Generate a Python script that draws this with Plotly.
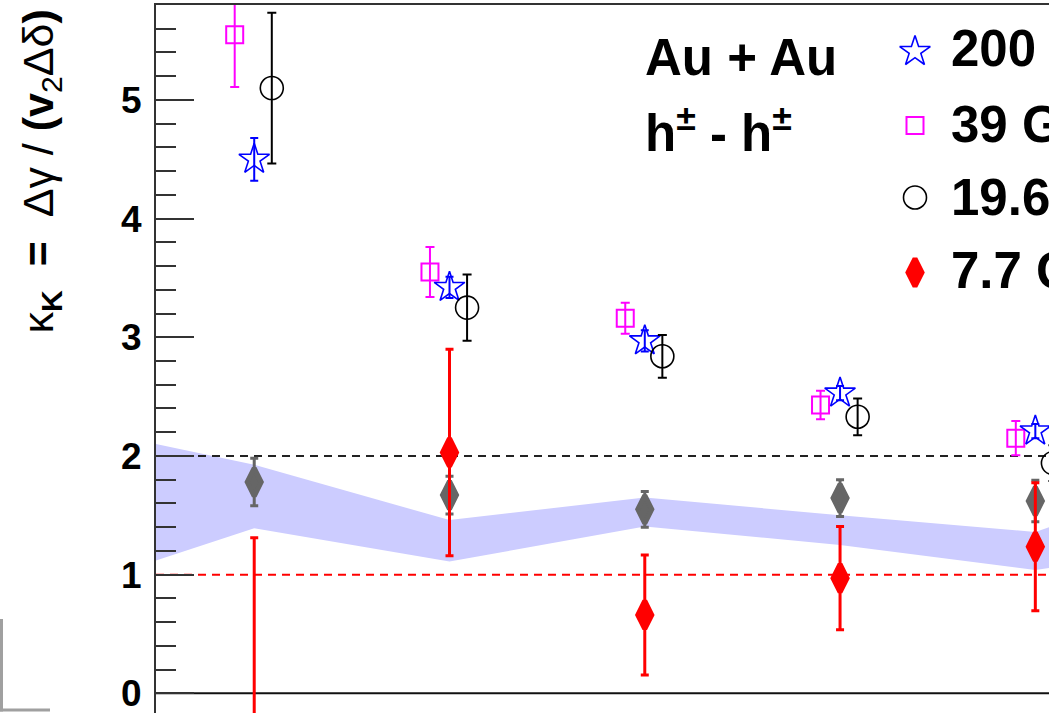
import plotly.graph_objects as go

# ---------------- data ----------------
bins = [0, 1, 2, 3, 4]  # centrality bin index

k200 = [4.50, 3.42, 2.97, 2.53, 2.21]
e200 = [0.18, 0.09, 0.09, 0.06, 0.06]
k39 = [5.55, 3.55, 3.16, 2.43, 2.15]
e39 = [0.44, 0.21, 0.13, 0.12, 0.145]
k19 = [5.10, 3.25, 2.84, 2.33, 1.94]
e19 = [0.635, 0.28, 0.18, 0.155, 0.15]
k7 = [-0.50, 2.03, 0.66, 0.97, 1.235]
e7 = [1.81, 0.87, 0.505, 0.435, 0.54]
kgrey = [1.78, 1.67, 1.55, 1.645, 1.62]
egrey = [0.20, 0.16, 0.15, 0.155, 0.175]

band_x = [-0.503, 0, 1, 2, 3, 4, 4.07]
band_hi = [2.10, 1.925, 1.46, 1.65, 1.50, 1.36, 1.40]
band_lo = [1.12, 1.39, 1.11, 1.405, 1.25, 1.04, 1.055]

ref_black = 2.0
ref_red = 1.0
ref_zero = 0.0

legend_labels = ["200 GeV", "39 GeV", "19.6 GeV", "7.7 GeV"]

# ---------------- layout constants ----------------
W, H = 1049, 713
ML, MT = 156, 5
XR = [-0.503, 4.07]
YR = [-0.166, 5.8]
OFF_L, OFF_R = -0.10, 0.09
FONT = "Liberation Sans"

BLUE, MAG, BLK, RED, GREY, BAND = "#0000ff", "#ff00ff", "#000000", "#ff0000", "#666666", "#ccccff"

fig = go.Figure()

# band
fig.add_trace(go.Scatter(x=band_x + band_x[::-1], y=band_hi + band_lo[::-1], fill="toself",
                         fillcolor=BAND, line=dict(width=0), mode="lines",
                         hoverinfo="skip", showlegend=False))

# reference lines
for yv, col, dash in [(ref_black, "#222222", "dash"), (ref_red, RED, "dash"), (ref_zero, "#111111", "solid")]:
    fig.add_trace(go.Scatter(x=XR, y=[yv, yv], mode="lines",
                             line=dict(color=col, width=2, dash="8px,6px" if dash == "dash" else "solid"),
                             showlegend=False, hoverinfo="skip"))


def series(xs, ys, es, symbol, size, color, lw, capw, ethick, offset=0.0, fillmarker=None):
    fig.add_trace(go.Scatter(
        x=[v + offset for v in xs], y=ys, mode="markers",
        marker=dict(symbol=symbol, size=size, color=fillmarker if fillmarker else color,
                    line=dict(color=color, width=lw)),
        error_y=dict(type="data", array=es, color=color, thickness=ethick, width=capw),
        showlegend=False, hoverinfo="skip"))


DIA_SIZE, DIA_LW = 20, 5
STAR_SIZE, CIRC_SIZE, SQ_SIZE = 23, 23, 17

series(bins, kgrey, egrey, "diamond-tall", DIA_SIZE, GREY, DIA_LW, 4, 3)
series(bins, k7, e7, "diamond-tall", DIA_SIZE, RED, DIA_LW, 4, 3)
series(bins, k39, e39, "square-open", SQ_SIZE, MAG, 2, 4.5, 2, offset=OFF_L)
series(bins, k200, e200, "star-open", STAR_SIZE, BLUE, 1.6, 4, 2)
series(bins, k19, e19, "circle-open", CIRC_SIZE, BLK, 1.6, 4.5, 2, offset=OFF_R)

# legend markers on a pixel-coordinate overlay axis
leg_sym = [("star-open", STAR_SIZE, BLUE, 1.6, None), ("square-open", SQ_SIZE, MAG, 2, None),
           ("circle-open", CIRC_SIZE, BLK, 1.6, None), ("diamond-tall", DIA_SIZE, RED, DIA_LW, RED)]
leg_y = [51.5, 125.5, 197.5, 272.5]
leg_x = 915
for (sym, sz, col, lw, fc), yy in zip(leg_sym, leg_y):
    fig.add_trace(go.Scatter(x=[leg_x], y=[yy], xaxis="x2", yaxis="y2", mode="markers",
                             marker=dict(symbol=sym, size=sz, color=fc if fc else col,
                                         line=dict(color=col, width=lw)),
                             showlegend=False, hoverinfo="skip", cliponaxis=False))

annotations = []
text_y = [48.8, 124.2, 197.5, 270.0]
for lab, yy in zip(legend_labels, text_y):
    annotations.append(dict(x=949, y=yy, xref="x2", yref="y2", text="<b>%s</b>" % lab,
                            showarrow=False, xanchor="left", yanchor="middle",
                            font=dict(family=FONT, size=51, color="black")))
annotations.append(dict(x=643, y=57.3, xref="x2", yref="y2", text="<b>Au + Au</b>",
                        showarrow=False, xanchor="left", yanchor="middle",
                        font=dict(family=FONT, size=51, color="black")))
annotations.append(dict(x=643, y=130.3, xref="x2", yref="y2",
                        text="<b>h<sup>±</sup> - h<sup>±</sup></b>",
                        showarrow=False, xanchor="left", yanchor="middle",
                        font=dict(family=FONT, size=51, color="black")))
# y-axis title
annotations.append(dict(x=(40 - ML) / (W - ML), y=(H - 171.5) / (H - MT), xref="paper", yref="paper",
                        text="κ<sub><b>K</b></sub>  <b>=</b>  Δγ / <b>(v</b><sub>2</sub>Δδ<b>)</b>",
                        textangle=-90, showarrow=False, xanchor="center", yanchor="middle",
                        font=dict(family=FONT, size=43, color="black")))

shapes = [
    dict(type="line", xref="paper", yref="paper", x0=(1.5 - ML) / (W - ML), x1=(1.5 - ML) / (W - ML),
         y0=(H - 619) / (H - MT), y1=(H - 711.5) / (H - MT), line=dict(color="#a0a0a0", width=3)),
    dict(type="line", xref="paper", yref="paper", x0=(0 - ML) / (W - ML), x1=(50 - ML) / (W - ML),
         y0=(H - 710) / (H - MT), y1=(H - 710) / (H - MT), line=dict(color="#a0a0a0", width=3)),
]

fig.update_layout(
    width=W, height=H, margin=dict(l=ML, r=0, t=MT, b=0, pad=0),
    paper_bgcolor="white", plot_bgcolor="white",
    xaxis=dict(range=XR, side="top", showline=True, linewidth=2, linecolor="#333333",
               ticks="", showticklabels=False, showgrid=False, zeroline=False, fixedrange=True),
    yaxis=dict(range=YR, showline=True, linewidth=2, linecolor="#333333",
               ticks="inside", ticklen=38, tickwidth=2, tickcolor="#333333",
               tick0=0, dtick=1, showgrid=False, zeroline=False,
               minor=dict(ticks="inside", ticklen=20, tickwidth=2, tickcolor="#333333", dtick=0.2),
               tickfont=dict(family=FONT, size=37, color="black", weight="bold"),
               ticklabelstandoff=5, ticklabeloverflow="allow"),
    xaxis2=dict(overlaying="x", range=[ML, W], visible=False, fixedrange=True),
    yaxis2=dict(overlaying="y", range=[H, MT], visible=False, fixedrange=True),
    annotations=annotations, shapes=shapes, showlegend=False,
)

fig.write_html("out.html")
